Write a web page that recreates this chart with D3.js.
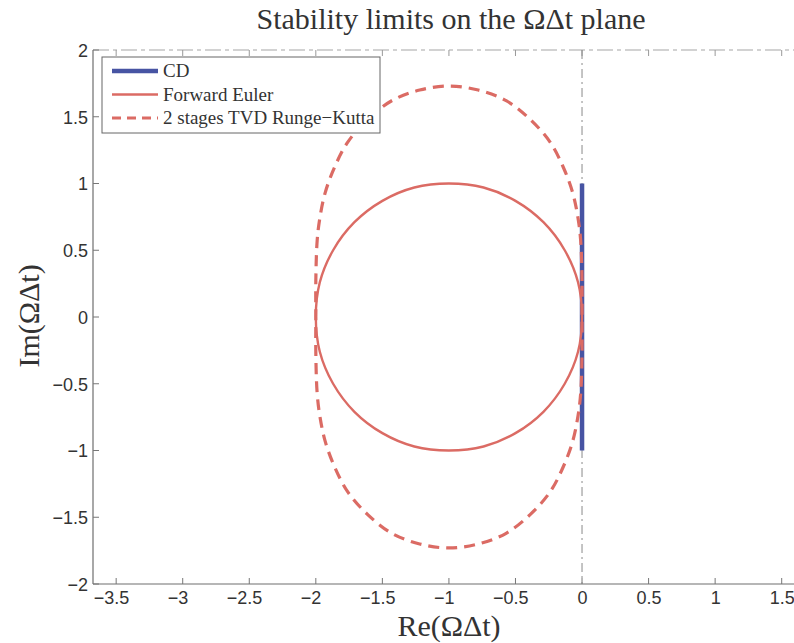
<!DOCTYPE html>
<html>
<head>
<meta charset="utf-8">
<script src="https://cdn.jsdelivr.net/npm/d3@7"></script>
<style>
  html, body { margin: 0; padding: 0; background: #fff; }
  svg { display: block; }
</style>
</head>
<body>
<svg id="chart" width="794" height="643"></svg>
<script>
// Stability boundaries in the complex ΩΔt plane
const xTicks = [-3.5, -3, -2.5, -2, -1.5, -1, -0.5, 0, 0.5, 1, 1.5];
const yTicks = [-2, -1.5, -1, -0.5, 0, 0.5, 1, 1.5, 2];

// Central differences: purely imaginary segment
const cdRe = [0, 0];
const cdIm = [-1, 1];

// Forward Euler boundary
const feRe = [0.00, -0.03, -0.13, -0.29, -0.50, -0.74, -1.00, -1.26, -1.50, -1.71, -1.87, -1.97,
              -2.00, -1.97, -1.87, -1.71, -1.50, -1.26, -1.00, -0.74, -0.50, -0.29, -0.13, -0.03];
const feIm = [0.00, 0.26, 0.50, 0.71, 0.87, 0.97, 1.00, 0.97, 0.87, 0.71, 0.50, 0.26,
              0.00, -0.26, -0.50, -0.71, -0.87, -0.97, -1.00, -0.97, -0.87, -0.71, -0.50, -0.26];

// 2 stages TVD Runge-Kutta boundary
const rkRe = [0.00, 0.00, -0.01, -0.03, -0.07, -0.14, -0.24, -0.39, -0.57, -0.78, -1.00,
              -1.22, -1.43, -1.61, -1.76, -1.86, -1.93, -1.97, -1.99, -2.00, -2.00,
              -2.00, -1.99, -1.97, -1.93, -1.86, -1.76, -1.61, -1.43, -1.22, -1.00,
              -0.78, -0.57, -0.39, -0.24, -0.14, -0.07, -0.03, -0.01, 0.00];
const rkIm = [0.00, 0.27, 0.57, 0.74, 0.93, 1.12, 1.31, 1.48, 1.62, 1.70, 1.73,
              1.70, 1.62, 1.48, 1.31, 1.12, 0.93, 0.74, 0.57, 0.27, 0.00,
              -0.27, -0.57, -0.74, -0.93, -1.12, -1.31, -1.48, -1.62, -1.70, -1.73,
              -1.70, -1.62, -1.48, -1.31, -1.12, -0.93, -0.74, -0.57, -0.27];

const legendLabels = ["CD", "Forward Euler", "2 stages TVD Runge\u2212Kutta"];

const blue = "#4754a3";
const red = "#db6b64";
const serif = "'Liberation Serif', 'Times New Roman', serif";
const sans = "'Liberation Sans', Arial, sans-serif";

const svg = d3.select("#chart");
const pLeft = 93, pTop = 50, pBottom = 584, pRight = 795;

const x = d3.scaleLinear().domain([-3.674, 1.6]).range([pLeft, pRight]);
const y = d3.scaleLinear().domain([-2, 2]).range([pBottom, pTop]);

const minus = v => (v < 0 ? "\u2212" + Math.abs(v) : String(v));

// clip region for the data
svg.append("defs").append("clipPath").attr("id", "plotclip")
  .append("rect").attr("x", pLeft).attr("y", pTop).attr("width", pRight - pLeft).attr("height", pBottom - pTop);

// top border (faint, broken)
svg.append("line")
  .attr("x1", pLeft).attr("x2", 794).attr("y1", pTop).attr("y2", pTop)
  .attr("stroke", "#a5a5a5").attr("stroke-width", 1).attr("stroke-dasharray", "16,4,4,4");

// bottom axis with inward ticks
const xAxis = d3.axisBottom(x).tickValues(xTicks).tickSize(0).tickFormat(minus);
const gx = svg.append("g").attr("transform", `translate(0,${pBottom})`).call(xAxis);
gx.select(".domain").remove();
gx.selectAll("text")
  .attr("font-family", sans).attr("font-size", 18).attr("fill", "#333")
  .attr("y", 20).attr("dy", 0)
  .attr("dx", d => (d < 0 ? "-0.29em" : 0));

svg.append("line")
  .attr("x1", pLeft).attr("x2", 794).attr("y1", pBottom).attr("y2", pBottom)
  .attr("stroke", "#6e6e6e").attr("stroke-width", 1.2);

svg.append("g").selectAll("line").data(xTicks).join("line")
  .attr("x1", d => x(d)).attr("x2", d => x(d))
  .attr("y1", pBottom).attr("y2", pBottom - 6)
  .attr("stroke", "#777").attr("stroke-width", 1);
svg.append("g").selectAll("line").data(xTicks).join("line")
  .attr("x1", d => x(d)).attr("x2", d => x(d))
  .attr("y1", pTop).attr("y2", pTop + 6)
  .attr("stroke", "#999").attr("stroke-width", 1);

// left axis
const yAxis = d3.axisLeft(y).tickValues(yTicks).tickSize(0).tickFormat(minus);
const gy = svg.append("g").attr("transform", `translate(${pLeft},0)`).call(yAxis);
gy.select(".domain").remove();
gy.selectAll("text")
  .attr("font-family", sans).attr("font-size", 18).attr("fill", "#333")
  .attr("x", -5).attr("dy", "0.36em");

svg.append("line")
  .attr("x1", pLeft).attr("x2", pLeft).attr("y1", pTop).attr("y2", pBottom)
  .attr("stroke", "#6e6e6e").attr("stroke-width", 1.2);
svg.append("g").selectAll("line").data(yTicks).join("line")
  .attr("x1", pLeft).attr("x2", pLeft + 6)
  .attr("y1", d => y(d)).attr("y2", d => y(d))
  .attr("stroke", "#777").attr("stroke-width", 1);

// imaginary axis (dash-dot)
svg.append("line")
  .attr("x1", x(0)).attr("x2", x(0)).attr("y1", pTop).attr("y2", pBottom)
  .attr("stroke", "#8a8a8a").attr("stroke-width", 1)
  .attr("stroke-dasharray", "9,4,2,4");

const plot = svg.append("g").attr("clip-path", "url(#plotclip)");
const lineOpen = d3.line().x(d => x(d[0])).y(d => y(d[1]));
const lineClosed = d3.line().x(d => x(d[0])).y(d => y(d[1])).curve(d3.curveCatmullRomClosed.alpha(0.5));

plot.append("path")
  .datum(d3.zip(cdRe, cdIm))
  .attr("d", lineOpen)
  .attr("fill", "none").attr("stroke", blue).attr("stroke-width", 4.5);

plot.append("path")
  .datum(d3.zip(feRe, feIm))
  .attr("d", lineClosed)
  .attr("fill", "none").attr("stroke", red).attr("stroke-width", 2.4);

plot.append("path")
  .datum(d3.zip(rkRe, rkIm))
  .attr("d", lineClosed)
  .attr("fill", "none").attr("stroke", red).attr("stroke-width", 3.2)
  .attr("stroke-dasharray", "11,7");

// legend
const lg = svg.append("g");
lg.append("rect")
  .attr("x", 102).attr("y", 57).attr("width", 278).attr("height", 76)
  .attr("fill", "#fff").attr("stroke", "#666").attr("stroke-width", 1);
const styles = [
  { color: blue, width: 4.5, dash: null },
  { color: red, width: 2.4, dash: null },
  { color: red, width: 3.2, dash: "9,6" }
];
legendLabels.forEach((label, i) => {
  const cy = 71 + i * 23.5;
  lg.append("line")
    .attr("x1", 112).attr("x2", 158).attr("y1", cy).attr("y2", cy)
    .attr("stroke", styles[i].color).attr("stroke-width", styles[i].width)
    .attr("stroke-dasharray", styles[i].dash);
  lg.append("text")
    .attr("x", 163).attr("y", cy).attr("dy", "0.33em")
    .attr("font-family", serif).attr("font-size", 19).attr("fill", "#333")
    .text(label);
});

// title and axis labels
svg.append("text")
  .attr("x", 451).attr("y", 29).attr("text-anchor", "middle")
  .attr("font-family", serif).attr("font-size", 30).attr("fill", "#333")
  .text("Stability limits on the \u03A9\u0394t plane");

svg.append("text")
  .attr("x", 449).attr("y", 636).attr("text-anchor", "middle")
  .attr("font-family", serif).attr("font-size", 30).attr("fill", "#333")
  .text("Re(\u03A9\u0394t)");

svg.append("text")
  .attr("transform", "translate(39,316) rotate(-90)").attr("text-anchor", "middle")
  .attr("font-family", serif).attr("font-size", 30).attr("fill", "#333")
  .text("Im(\u03A9\u0394t)");
</script>
</body>
</html>
